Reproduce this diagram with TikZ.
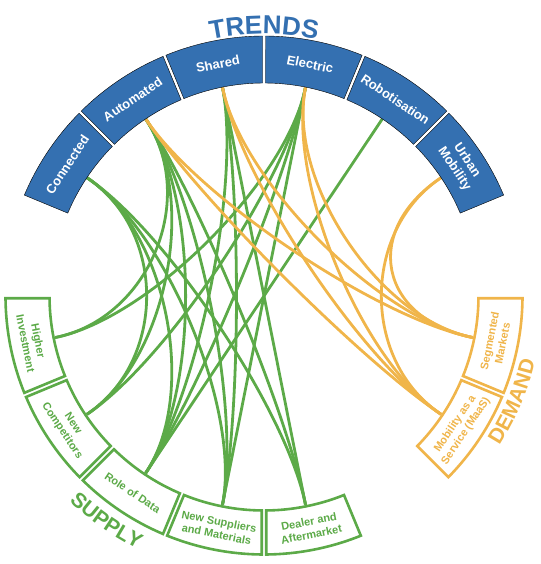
\documentclass[tikz,border=0pt]{standalone}
\usepackage{fontspec}
\setmainfont{Liberation Sans}
\usetikzlibrary{calc, decorations.text}

\definecolor{trendblue}{RGB}{52,112,177}
\definecolor{supplygreen}{RGB}{92,170,72}
\definecolor{demandorange}{RGB}{240,181,74}

\newcommand{\titlefont}{\fontsize{26}{28}\selectfont\bfseries}
\newcommand{\sectfont}{\fontsize{21}{24}\selectfont\bfseries}
\newcommand{\bendk}{0.45}

% sector of the ring: style, from, to, outer r, inner r, half gap
\newcommand{\ringblock}[6]{%
  \pgfmathsetmacro{\blkao}{asin(#6/#4)}%
  \pgfmathsetmacro{\blkai}{asin(#6/#5)}%
  \draw[#1] ({#2+\blkao}:#4) arc[start angle={#2+\blkao}, end angle={#3-\blkao}, radius=#4]
    -- ({#3-\blkai}:#5) arc[start angle={#3-\blkai}, end angle={#2+\blkai}, radius=#5] -- cycle;}

\begin{document}
\begin{tikzpicture}[x=1pt, y=1pt,
    trendbox/.style={fill=trendblue},
    supplybox/.style={draw=supplygreen, line width=2.6pt, fill=white},
    demandbox/.style={draw=demandorange, line width=2.6pt, fill=white},
    trendlabel/.style={text=white, font=\fontsize{13}{15}\selectfont\bfseries, align=center},
    supplylabel/.style={text=supplygreen, font=\fontsize{11}{13}\selectfont\bfseries, align=center},
    demandlabel/.style={text=demandorange, font=\fontsize{11}{13}\selectfont\bfseries, align=center},
    chord/.style={line width=2.8pt, to path={.. controls ($(\tikztostart)!\bendk!(O)$) and ($(\tikztotarget)!\bendk!(O)$) .. (\tikztotarget)}},
    greenlink/.style={chord, draw=supplygreen},
    orangelink/.style={chord, draw=demandorange}]
    \useasboundingbox (-264,-268) rectangle (276,296);
    \coordinate (O) at (0,0);

    % end points of the chords
    \coordinate (conn) at (146.25:213);
    \coordinate (auto) at (123.75:213);
    \coordinate (shar) at (101.25:213);
    \coordinate (elec) at (78.75:213);
    \coordinate (robo) at (56.25:213);
    \coordinate (urban) at (33.75:213);
    \coordinate (hi) at (191.25:213);
    \coordinate (nc) at (213.75:213);
    \coordinate (rod) at (236.25:213);
    \coordinate (ns) at (258.75:213);
    \coordinate (da) at (281.25:213);
    \coordinate (sm) at (348.75:213);
    \coordinate (maas) at (326.25:213);

    \draw[greenlink] (conn) to (nc);
    \draw[greenlink] (conn) to (rod);
    \draw[greenlink] (conn) to (ns);
    \draw[greenlink] (conn) to (da);
    \draw[greenlink] (auto) to (hi);
    \draw[greenlink] (auto) to (nc);
    \draw[greenlink] (auto) to (rod);
    \draw[greenlink] (auto) to (ns);
    \draw[greenlink] (auto) to (da);
    \draw[greenlink] (shar) to (rod);
    \draw[greenlink] (shar) to (ns);
    \draw[greenlink] (shar) to (da);
    \draw[greenlink] (elec) to (hi);
    \draw[greenlink] (elec) to (nc);
    \draw[greenlink] (elec) to (rod);
    \draw[greenlink] (elec) to (ns);
    \draw[greenlink] (robo) to (rod);
    \draw[orangelink] (auto) to (sm);
    \draw[orangelink] (auto) to (maas);
    \draw[orangelink] (shar) to (sm);
    \draw[orangelink] (shar) to (maas);
    \draw[orangelink] (elec) to (sm);
    \draw[orangelink] (elec) to (maas);
    \draw[orangelink] (urban) to (sm);
    \draw[orangelink] (urban) to (maas);

    % trends
    \ringblock{trendbox}{135}{157.5}{260}{213}{1.5}
    \ringblock{trendbox}{112.5}{135}{260}{213}{1.5}
    \ringblock{trendbox}{90}{112.5}{260}{213}{1.5}
    \ringblock{trendbox}{67.5}{90}{260}{213}{1.5}
    \ringblock{trendbox}{45}{67.5}{260}{213}{1.5}
    \ringblock{trendbox}{22.5}{45}{260}{213}{1.5}
    \node[trendlabel, rotate=56.25] (connlbl) at (146.25:236.5) {Connected};
    \node[trendlabel, rotate=33.75] (autolbl) at (123.75:236.5) {Automated};
    \node[trendlabel, rotate=11.25] (sharlbl) at (101.25:236.5) {Shared};
    \node[trendlabel, rotate=-11.25] (eleclbl) at (78.75:236.5) {Electric};
    \node[trendlabel, rotate=-33.75] (robolbl) at (56.25:236.5) {Robotisation};
    \node[trendlabel, rotate=-56.25] (urbanlbl) at (33.75:236.5) {Urban\\Mobility};

    % supply
    \ringblock{supplybox}{180}{202.5}{258.5}{214.5}{2.25}
    \ringblock{supplybox}{202.5}{225}{258.5}{214.5}{2.25}
    \ringblock{supplybox}{225}{247.5}{258.5}{214.5}{2.25}
    \ringblock{supplybox}{247.5}{270}{258.5}{214.5}{2.25}
    \ringblock{supplybox}{270}{292.5}{258.5}{214.5}{2.25}
    \node[supplylabel, rotate=-78.75] (hilbl) at (191.25:236.5) {Higher\\Investment};
    \node[supplylabel, rotate=-56.25] (nclbl) at (213.75:236.5) {New\\Competitors};
    \node[supplylabel, rotate=-33.75] (rodlbl) at (236.25:236.5) {Role of Data};
    \node[supplylabel, rotate=-11.25] (nslbl) at (258.75:236.5) {New Suppliers\\and Materials};
    \node[supplylabel, rotate=11.25] (dalbl) at (281.25:236.5) {Dealer and\\Aftermarket};

    % demand
    \ringblock{demandbox}{337.5}{360}{258.5}{214.5}{2.25}
    \ringblock{demandbox}{315}{337.5}{258.5}{214.5}{2.25}
    \node[demandlabel, rotate=78.75] (smlbl) at (348.75:236.5) {Segmented\\Markets};
    \node[demandlabel, rotate=56.25] (maaslbl) at (326.25:236.5) {Mobility as a\\Service (MaaS)};

    % titles
    \path[decorate, decoration={text along path, text align=center, text={|\titlefont\color{trendblue}|TRENDS}}]
        (110:262) arc[start angle=110, end angle=70, radius=262];
    \path[decorate, decoration={text along path, text align=center, text={|\sectfont\color{supplygreen}|SUPPLY}}]
        (215:283) arc[start angle=215, end angle=255, radius=283];
    \path[decorate, decoration={text along path, text align=center, text={|\sectfont\color{demandorange}|DEMAND}}]
        (-43:279) arc[start angle=-43, end angle=-3, radius=279];
\end{tikzpicture}
\end{document}
